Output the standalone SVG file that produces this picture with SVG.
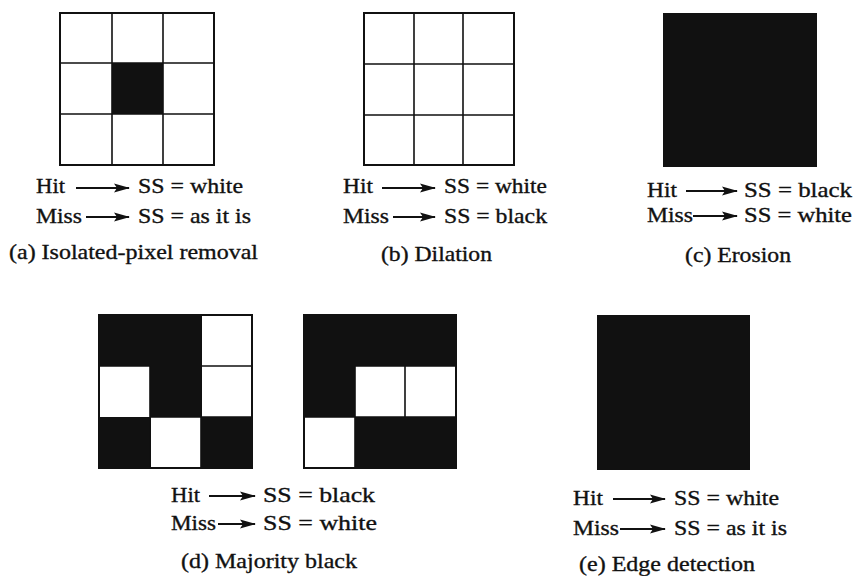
<svg xmlns="http://www.w3.org/2000/svg" width="855" height="576" viewBox="0 0 855 576">
<defs>
<style>
text{font-family:'Liberation Serif','Times New Roman',Times,serif;font-size:22px;fill:#111;stroke:#111;stroke-width:0.35}
.g{fill:none;stroke:#111;stroke-width:1.6}
.o{fill:none;stroke:#111;stroke-width:2}
.b{fill:#111}
.ar{stroke:#111;stroke-width:2.2;fill:none;marker-end:url(#ah)}
</style>
<marker id="ah" markerUnits="userSpaceOnUse" markerWidth="18" markerHeight="10" viewBox="0 -5 18 10" refX="15" refY="0" orient="auto">
<path d="M0,-4.5 L16,0 L0,4.5 L3,0 z" fill="#111"/>
</marker>
</defs>
<rect width="855" height="576" fill="#fff"/>

<g id="panel-a">
<rect x="112" y="63" width="51" height="51" class="b"/>
<path class="g" d="M112,13V165M163,13V165M60,63H214M60,114H214"/>
<rect x="60" y="13" width="154" height="152" class="o"/>
<text x="36" y="193" textLength="29" lengthAdjust="spacingAndGlyphs">Hit</text>
<text x="138" y="193" textLength="105" lengthAdjust="spacingAndGlyphs">SS = white</text>
<text x="36" y="223" textLength="46" lengthAdjust="spacingAndGlyphs">Miss</text>
<text x="138" y="223" textLength="113" lengthAdjust="spacingAndGlyphs">SS = as it is</text>
<text x="9" y="259" textLength="249" lengthAdjust="spacingAndGlyphs">(a) Isolated-pixel removal</text>
</g>

<g id="panel-b">
<path class="g" d="M414,13V165M463,13V165M364,64H514M364,115H514"/>
<rect x="364" y="13" width="150" height="152" class="o"/>
<text x="343" y="193" textLength="30" lengthAdjust="spacingAndGlyphs">Hit</text>
<text x="444" y="193" textLength="103" lengthAdjust="spacingAndGlyphs">SS = white</text>
<text x="343" y="223" textLength="46" lengthAdjust="spacingAndGlyphs">Miss</text>
<text x="444" y="223" textLength="103" lengthAdjust="spacingAndGlyphs">SS = black</text>
<text x="381" y="261" textLength="111" lengthAdjust="spacingAndGlyphs">(b) Dilation</text>
</g>

<g id="panel-c">
<rect x="663" y="13" width="154" height="154" class="b"/>
<text x="647" y="197" textLength="30" lengthAdjust="spacingAndGlyphs">Hit</text>
<text x="744" y="197" textLength="108" lengthAdjust="spacingAndGlyphs">SS = black</text>
<text x="647" y="222" textLength="46" lengthAdjust="spacingAndGlyphs">Miss</text>
<text x="744" y="222" textLength="108" lengthAdjust="spacingAndGlyphs">SS = white</text>
<text x="685" y="262" textLength="106" lengthAdjust="spacingAndGlyphs">(c) Erosion</text>
</g>

<g id="panel-d">
<rect x="99" y="315" width="103" height="51" class="b"/>
<rect x="150" y="366" width="52" height="51" class="b"/>
<rect x="99" y="417" width="52" height="51" class="b"/>
<rect x="201" y="417" width="51" height="51" class="b"/>
<path class="g" d="M201,315V366M201,366H252M150,366H99M150,366V417M201,366V417M150,417H252M150,417V468M201,417V468"/>
<rect x="99" y="315" width="153" height="153" class="o"/>
<rect x="304" y="315" width="152" height="51" class="b"/>
<rect x="304" y="366" width="51" height="51" class="b"/>
<rect x="355" y="417" width="101" height="51" class="b"/>
<path class="g" d="M355,366V468M405,366V417M355,366H456M304,417H456"/>
<rect x="304" y="315" width="152" height="153" class="o"/>
<text x="171" y="502" textLength="29" lengthAdjust="spacingAndGlyphs">Hit</text>
<text x="263" y="502" textLength="112" lengthAdjust="spacingAndGlyphs">SS = black</text>
<text x="171" y="530" textLength="45" lengthAdjust="spacingAndGlyphs">Miss</text>
<text x="263" y="530" textLength="114" lengthAdjust="spacingAndGlyphs">SS = white</text>
<text x="181" y="568" textLength="176" lengthAdjust="spacingAndGlyphs">(d) Majority black</text>
</g>

<g id="panel-e">
<rect x="597" y="315" width="153" height="155" class="b"/>
<text x="573" y="505" textLength="30" lengthAdjust="spacingAndGlyphs">Hit</text>
<text x="674" y="505" textLength="105" lengthAdjust="spacingAndGlyphs">SS = white</text>
<text x="573" y="535" textLength="46" lengthAdjust="spacingAndGlyphs">Miss</text>
<text x="674" y="535" textLength="113" lengthAdjust="spacingAndGlyphs">SS = as it is</text>
<text x="579" y="571" textLength="176" lengthAdjust="spacingAndGlyphs">(e) Edge detection</text>
</g>

<g id="connectors">
<line class="ar" x1="76" y1="188" x2="129" y2="188"/>
<line class="ar" x1="86" y1="217" x2="129" y2="217"/>
<line class="ar" x1="382" y1="188" x2="435" y2="188"/>
<line class="ar" x1="393" y1="217" x2="435" y2="217"/>
<line class="ar" x1="686" y1="191" x2="737" y2="191"/>
<line class="ar" x1="693" y1="216" x2="737" y2="216"/>
<line class="ar" x1="209" y1="496" x2="255" y2="496"/>
<line class="ar" x1="218" y1="524" x2="255" y2="524"/>
<line class="ar" x1="613" y1="499" x2="665" y2="499"/>
<line class="ar" x1="620" y1="529" x2="665" y2="529"/>
</g>
</svg>
